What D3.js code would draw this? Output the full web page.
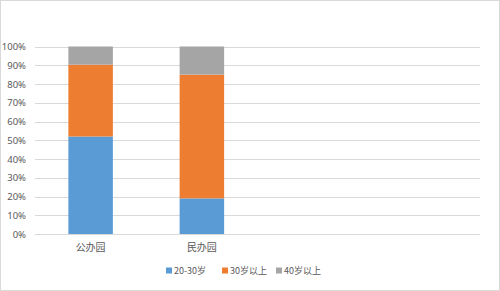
<!DOCTYPE html>
<html>
<head>
<meta charset="utf-8">
<script src="https://cdn.jsdelivr.net/npm/d3@7"></script>
<style>
  body { margin: 0; background: #fff; }
  text { font-family: "Noto Sans CJK SC", "Noto Sans", sans-serif; }
</style>
</head>
<body>
<svg id="chart"></svg>
<script>
const width = 500;
const height = 291;

// 数据
const categories = ["公办园", "民办园"];
const slots = 4; // 原图横轴留了4个位置，后两个为空
const seriesNames = ["20-30岁", "30岁以上", "40岁以上"];
const age2030 = [52, 19];
const age30up = [38.3, 66];
const age40up = [9.7, 15];
const yTicks = [0, 10, 20, 30, 40, 50, 60, 70, 80, 90, 100];
const colors = ["#5B9BD5", "#ED7D31", "#A5A5A5"];

const margin = { left: 35, right: 20, top: 46.5, bottom: 57 };

const svg = d3.select('#chart')
  .attr('width', width)
  .attr('height', height);

// 外边框
svg.append('rect')
  .attr('x', 0.5).attr('y', 0.5)
  .attr('width', width - 1).attr('height', height - 1)
  .attr('fill', '#fff')
  .attr('stroke', '#d9d9d9');

const x = d3.scaleBand()
  .domain(d3.range(slots))
  .range([margin.left, width - margin.right])
  .paddingInner(0.6)
  .paddingOuter(0.3);

const y = d3.scaleLinear()
  .domain([0, 100])
  .range([height - margin.bottom, margin.top]);

// 网格线
svg.append('g')
  .selectAll('line')
  .data(yTicks)
  .join('line')
  .attr('x1', margin.left)
  .attr('x2', width - margin.right)
  .attr('y1', d => Math.round(y(d)) + 0.5)
  .attr('y2', d => Math.round(y(d)) + 0.5)
  .attr('stroke', '#d9d9d9');

// y轴标签
const yAxis = svg.append('g')
  .attr('transform', `translate(${margin.left - 9},0)`)
  .call(d3.axisLeft(y).tickValues(yTicks).tickFormat(d => d + '%').tickSize(0).tickPadding(0));
yAxis.select('.domain').remove();
yAxis.selectAll('text')
  .attr('font-size', 9.5)
  .attr('fill', '#595959')
  .style('font-family', '"Noto Sans", sans-serif');

// x轴标签
const xAxis = svg.append('g')
  .attr('transform', `translate(0,${height - margin.bottom})`)
  .call(d3.axisBottom(x).tickFormat(i => categories[i] || '').tickSize(0).tickPadding(10));
xAxis.select('.domain').remove();
xAxis.selectAll('text')
  .attr('font-size', 10)
  .attr('fill', '#595959');

// 堆叠
const rows = categories.map((c, i) => ({
  idx: i,
  "20-30岁": age2030[i],
  "30岁以上": age30up[i],
  "40岁以上": age40up[i]
}));
const stacked = d3.stack().keys(seriesNames)(rows);

svg.append('g')
  .selectAll('g')
  .data(stacked)
  .join('g')
  .attr('fill', (d, i) => colors[i])
  .selectAll('rect')
  .data(d => d)
  .join('rect')
  .attr('x', d => x(d.data.idx))
  .attr('width', x.bandwidth())
  .attr('y', d => y(d[1]))
  .attr('height', d => y(d[0]) - y(d[1]));

// 图例
const legendX = [166, 222, 276];
const legend = svg.append('g')
  .selectAll('g')
  .data(seriesNames)
  .join('g')
  .attr('transform', (d, i) => `translate(${legendX[i]},271)`);
legend.append('rect')
  .attr('x', 0).attr('y', -3.5)
  .attr('width', 6).attr('height', 6)
  .attr('fill', (d, i) => colors[i]);
legend.append('text')
  .attr('x', 8)
  .attr('dy', '0.35em')
  .attr('font-size', 9)
  .attr('fill', '#595959')
  .text(d => d);
</script>
</body>
</html>
